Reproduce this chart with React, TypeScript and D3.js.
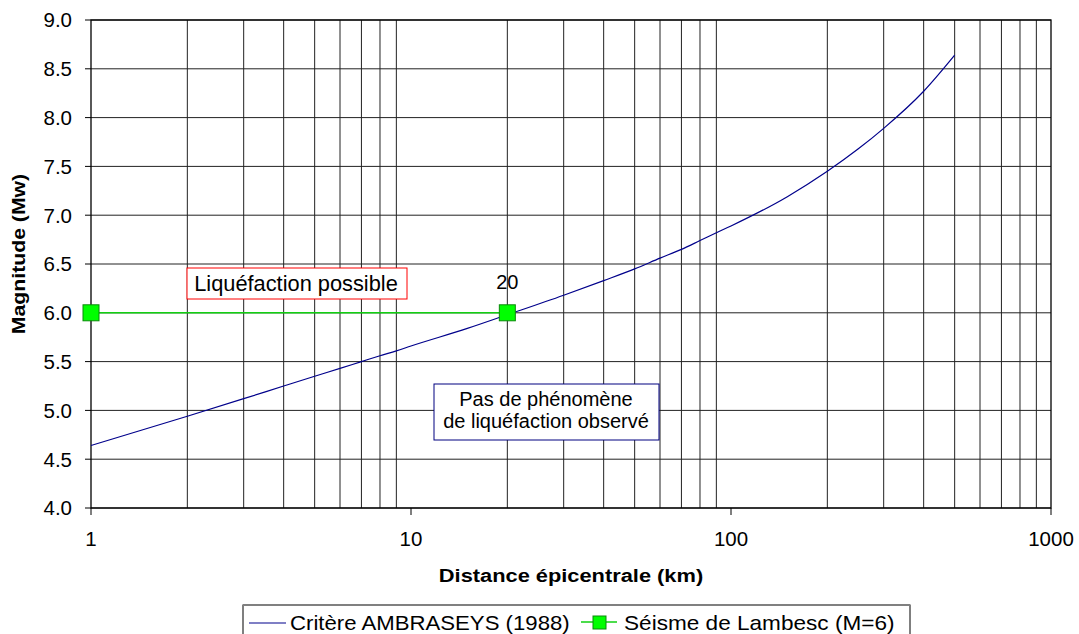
import * as d3 from 'd3';

// Critère AMBRASEYS (1988) : distance épicentrale (km) -> magnitude
const ambDistance = [1, 2, 3, 4, 5, 6, 7, 8, 9, 10, 15, 20, 30, 40, 50, 60, 70, 80, 90, 100, 150, 200, 250, 300, 400, 500];
const ambMagnitude = [4.64, 4.94, 5.12, 5.25, 5.35, 5.43, 5.50, 5.56, 5.61, 5.66, 5.84, 5.98, 6.18, 6.33, 6.45, 6.56, 6.65, 6.74, 6.82, 6.89, 7.19, 7.45, 7.68, 7.89, 8.27, 8.64];

// Séisme de Lambesc (M=6)
const lambDistance = [1, 20];
const lambMagnitude = [6, 6];

const xDecades = [1, 10, 100, 1000];
const yTicks = [4.0, 4.5, 5.0, 5.5, 6.0, 6.5, 7.0, 7.5, 8.0, 8.5, 9.0];

const W = 1079;
const H = 634;
const margin = { top: 20, right: 28, bottom: 126, left: 91 };
const FONT = "Arial, 'Liberation Sans', sans-serif";

export default function App() {
  const innerW = W - margin.left - margin.right;
  const innerH = H - margin.top - margin.bottom;

  const x = d3.scaleLog().domain([1, 1000]).range([0, innerW]);
  const y = d3.scaleLinear().domain([4, 9]).range([innerH, 0]);

  // every minor log line 1..9 per decade
  const gridX: number[] = [];
  for (let d = 1; d < 1000; d *= 10) {
    for (let k = 2; k <= 9; k++) gridX.push(d * k);
  }

  const ambPts = ambDistance.map((d, i) => [d, ambMagnitude[i]] as [number, number]);
  const lambPts = lambDistance.map((d, i) => [d, lambMagnitude[i]] as [number, number]);

  const line = d3.line<[number, number]>()
    .x((d) => x(d[0]))
    .y((d) => y(d[1]))
    .curve(d3.curveMonotoneX);

  const grid = '#222';
  const green = '#11d011';

  return (
    <svg width={W} height={H} style={{ position: 'absolute', left: 0, top: 0, background: '#fff', fontFamily: FONT }}>
      <g transform={`translate(${margin.left},${margin.top})`}>
        {/* horizontal grid */}
        {yTicks.map((t) => (
          <line key={'h' + t} x1={0} x2={innerW} y1={y(t)} y2={y(t)} stroke={grid} strokeWidth={1} />
        ))}
        {/* vertical grid */}
        {gridX.map((v) => (
          <line key={'v' + v} x1={x(v)} x2={x(v)} y1={0} y2={innerH} stroke={grid} strokeWidth={1} />
        ))}
        {/* plot frame */}
        <rect x={0} y={0} width={innerW} height={innerH} fill="none" stroke="#000" strokeWidth={1.3} />

        {/* y ticks */}
        {yTicks.map((t) => (
          <g key={'yt' + t}>
            <line x1={-6} x2={0} y1={y(t)} y2={y(t)} stroke="#000" />
            <text x={-19} y={y(t)} dy="0.36em" textAnchor="end" fontSize={20.5} fill="#000">{t.toFixed(1)}</text>
          </g>
        ))}
        {/* x ticks */}
        {xDecades.map((t) => (
          <g key={'xt' + t}>
            <line x1={x(t)} x2={x(t)} y1={innerH} y2={innerH + 7} stroke="#000" />
            <text x={x(t)} y={innerH + 38} textAnchor="middle" fontSize={20.5} fill="#000">{t}</text>
          </g>
        ))}

        {/* Ambraseys curve */}
        <path d={line(ambPts) || ''} fill="none" stroke="#00008b" strokeWidth={1.2} />

        {/* Lambesc */}
        <path d={line(lambPts) || ''} fill="none" stroke={green} strokeWidth={1.5} />
        {lambPts.map((p) => (
          <rect key={'m' + p[0]} x={x(p[0]) - 8} y={y(p[1]) - 8} width={16} height={16} fill="#00ff00" stroke="#0a8a0a" strokeWidth={1} />
        ))}
        <text x={x(20)} y={y(6) - 24} textAnchor="middle" fontSize={20} fill="#000">20</text>

        {/* annotations */}
        <rect x={187 - margin.left} y={268 - margin.top} width={220} height={31} fill="#fff" stroke="#ff0000" strokeWidth={1} />
        <text x={296 - margin.left} y={291 - margin.top} textAnchor="middle" fontSize={21.8} fill="#000">Liquéfaction possible</text>

        <rect x={434 - margin.left} y={384 - margin.top} width={225} height={56} fill="#fff" stroke="#000080" strokeWidth={1} />
        <text x={546 - margin.left} y={406 - margin.top} textAnchor="middle" fontSize={20} fill="#000">Pas de phénomène</text>
        <text x={546 - margin.left} y={428 - margin.top} textAnchor="middle" fontSize={20} fill="#000">de liquéfaction observé</text>
      </g>

      {/* axis titles */}
      <text transform={`translate(${margin.left + innerW / 2},582) scale(1.18,1)`} textAnchor="middle" fontSize={18.5} fontWeight="bold" fill="#000">
        Distance épicentrale (km)
      </text>
      <text transform={`translate(25,${margin.top + innerH / 2 - 10}) rotate(-90) scale(1.18,1)`} textAnchor="middle" fontSize={18} fontWeight="bold" fill="#000">
        Magnitude (Mw)
      </text>

      {/* legend */}
      <g>
        <rect x={243} y={605} width={667} height={40} fill="#fff" stroke="#000" strokeWidth={1} />
        <line x1={243} x2={910} y1={605} y2={605} stroke="#808080" strokeWidth={2} />
        <line x1={249} x2={286} y1={623} y2={623} stroke="#00008b" strokeWidth={1.2} />
        <text transform="translate(290,630) scale(1.12,1)" fontSize={19.8} fill="#000">Critère AMBRASEYS (1988)</text>
        <line x1={581} x2={617} y1={622} y2={622} stroke={green} strokeWidth={1.5} />
        <rect x={593} y={616} width={13} height={13} fill="#00ff00" stroke="#0a8a0a" strokeWidth={1} />
        <text transform="translate(624,630) scale(1.13,1)" fontSize={20} fill="#000">Séisme de Lambesc (M=6)</text>
      </g>
    </svg>
  );
}
